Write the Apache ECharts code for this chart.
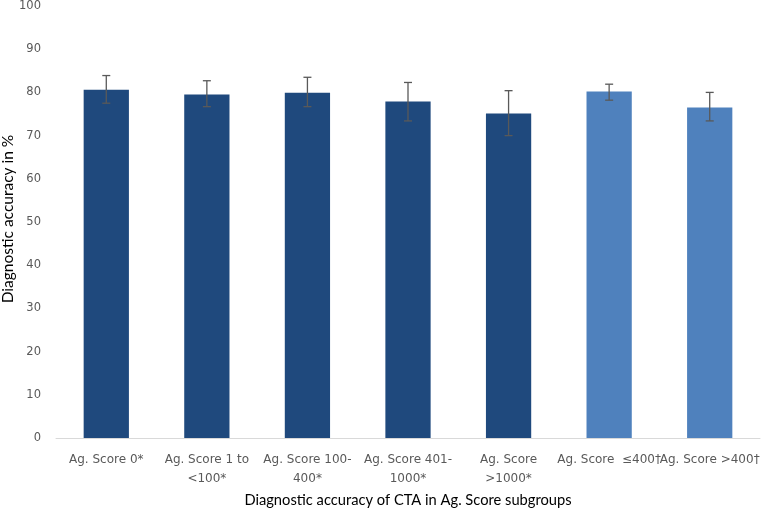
<!DOCTYPE html>
<html><head><meta charset="utf-8">
<script src="https://cdn.jsdelivr.net/npm/echarts@6/dist/echarts.min.js"></script>
<style>html,body{margin:0;padding:0;background:#fff}#c{width:762px;height:509px}</style>
</head><body><div id="c"></div>
<script>
const categories = ['Ag. Score 0*', 'Ag. Score 1 to\n<100*', 'Ag. Score 100-\n400*', 'Ag. Score 401-\n1000*', 'Ag. Score\n>1000*', 'Ag. Score  \u2264400\u2020', 'Ag. Score >400\u2020'];
const values = [80.6, 79.5, 79.9, 77.9, 75.1, 80.2, 76.5];
const errLow = [77.5, 76.7, 76.7, 73.4, 70.0, 78.2, 73.4];
const errHigh = [83.9, 82.7, 83.5, 82.3, 80.4, 81.9, 80.0];
const groups = ['A', 'A', 'A', 'A', 'A', 'B', 'B'];
const yTicks = [0, 100, 10];

const groupColor = {A: '#1F497D', B: '#4F81BD'};
const wide = '"DejaVu Sans", sans-serif';
const narrow = 'Lato, sans-serif';
const chart = echarts.init(document.getElementById('c'));
chart.setOption({
  animation: false,
  grid: {left: 56, right: 2, top: 6, bottom: 71, outerBoundsMode: 'none', containLabel: false},
  xAxis: {
    type: 'category', data: categories,
    axisLine: {lineStyle: {color: '#D9D9D9'}},
    axisTick: {show: false},
    axisLabel: {color: '#595959', fontSize: 12, fontFamily: wide, interval: 0, margin: 12, lineHeight: 19, hideOverlap: false},
    name: 'Diagnostic accuracy of CTA in Ag. Score subgroups',
    nameLocation: 'middle', nameGap: 55, nameMoveOverlap: false,
    nameTextStyle: {color: '#000', fontSize: 14.7, fontFamily: narrow}
  },
  yAxis: {
    type: 'value', min: yTicks[0], max: yTicks[1], interval: yTicks[2],
    axisLine: {show: false}, axisTick: {show: false}, splitLine: {show: false},
    axisLabel: {color: '#595959', fontSize: 11.5, fontFamily: wide, margin: 15},
    name: 'Diagnostic accuracy in %', nameLocation: 'middle', nameGap: 40, nameMoveOverlap: false,
    nameTextStyle: {color: '#000', fontSize: 15.5, fontFamily: narrow, padding: [0, 0, 0, 6]}
  },
  series: [{
    type: 'bar',
    data: values.map((v, i) => ({value: v, itemStyle: {color: groupColor[groups[i]]}})),
    barWidth: '45%'
  }, {
    type: 'custom',
    data: values.map((v, i) => [i, errLow[i], errHigh[i]]),
    z: 10,
    renderItem: function (params, api) {
      const x = api.value(0);
      const lo = api.coord([x, api.value(1)]);
      const hi = api.coord([x, api.value(2)]);
      const hw = 4;
      const style = {stroke: '#595959', lineWidth: 1.3};
      return {type: 'group', children: [
        {type: 'line', shape: {x1: lo[0], y1: lo[1], x2: hi[0], y2: hi[1]}, style},
        {type: 'line', shape: {x1: lo[0] - hw, y1: lo[1], x2: lo[0] + hw, y2: lo[1]}, style},
        {type: 'line', shape: {x1: hi[0] - hw, y1: hi[1], x2: hi[0] + hw, y2: hi[1]}, style}
      ]};
    }
  }]
});
</script></body></html>
